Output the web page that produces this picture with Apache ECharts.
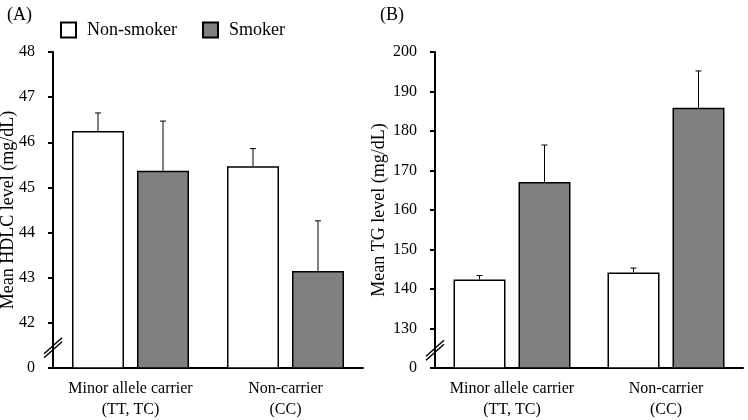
<!DOCTYPE html>
<html>
<head>
<meta charset="utf-8">
<script src="https://cdn.jsdelivr.net/npm/echarts@6/dist/echarts.min.js"></script>
<style>
  html, body { margin: 0; padding: 0; background: #fff; }
  #chart { width: 748px; height: 420px; }
</style>
</head>
<body>
<div id="chart"></div>
<script>
const categories = ["Minor allele carrier\n(TT, TC)", "Non-carrier\n(CC)"];
const seriesNames = ["Non-smoker", "Smoker"];

// panel A: HDLC (mg/dL), mean and standard error
const hdlcNonSmoker = [46.25, 45.47];
const hdlcNonSmokerErr = [0.40, 0.39];
const hdlcSmoker = [45.37, 43.15];
const hdlcSmokerErr = [1.10, 1.11];

// panel B: TG (mg/dL)
const tgNonSmoker = [142.4, 144.2];
const tgNonSmokerErr = [1.0, 1.1];
const tgSmoker = [167.1, 185.9];
const tgSmokerErr = [9.35, 9.3];

// axes: lowest value is drawn as "0" below the break
const hdlcAxis = { min: 41, max: 48, interval: 1 };
const tgAxis = { min: 120, max: 200, interval: 10 };

const FONT = "Liberation Serif";
const gridA = { left: 53, right: 385, top: 52, bottom: 52, containLabel: false, outerBoundsMode: "none" };
const gridB = { left: 435, right: 5, top: 52, bottom: 52, containLabel: false, outerBoundsMode: "none" };
const BAR_W = 52;
const OFFSET = 32.5;

const chart = echarts.init(document.getElementById("chart"));

const yAxisFor = (ax, name, nameGap, gridIndex) => ({
  type: "value",
  gridIndex,
  min: ax.min,
  max: ax.max,
  interval: ax.interval,
  name,
  nameLocation: "middle",
  nameGap,
  nameMoveOverlap: false,
  nameTextStyle: { fontFamily: FONT, fontSize: 18, color: "#000", verticalAlign: "middle" },
  axisLine: { show: true, lineStyle: { color: "#000", width: 2 } },
  axisTick: { show: true, length: 5, lineStyle: { color: "#000", width: 2 } },
  axisLabel: {
    margin: 18,
    fontFamily: FONT,
    fontSize: 16,
    color: "#000",
    formatter: (v) => (v === ax.min ? "0" : String(v)),
  },
  splitLine: { show: false },
});

const xAxisFor = (gridIndex) => ({
  type: "category",
  gridIndex,
  data: categories,
  axisLine: { lineStyle: { color: "#000", width: 2 } },
  axisTick: { show: false },
  axisLabel: {
    interval: 0,
    margin: 10,
    fontFamily: FONT,
    fontSize: 16,
    lineHeight: 21,
    color: "#000",
  },
});

const barSeries = (name, data, idx, color) => ({
  type: "bar",
  name,
  xAxisIndex: idx,
  yAxisIndex: idx,
  data,
  barWidth: BAR_W,
  barGap: "25%",
  itemStyle: { color, borderColor: "#000", borderWidth: 1.5 },
});

const errSeries = (means, errs, idx, offset) => ({
  type: "custom",
  xAxisIndex: idx,
  yAxisIndex: idx,
  data: means.map((m, i) => [i, m, errs[i]]),
  z: 5,
  renderItem: (params, api) => {
    const base = api.coord([api.value(0), api.value(1)]);
    const top = api.coord([api.value(0), api.value(1) + api.value(2)]);
    const x = base[0] + offset;
    const style = { stroke: "#000", lineWidth: 1 };
    return {
      type: "group",
      children: [
        { type: "line", shape: { x1: x, y1: base[1], x2: x, y2: top[1] }, style },
        { type: "line", shape: { x1: x - 3, y1: top[1], x2: x + 3, y2: top[1] }, style },
      ],
    };
  },
});

chart.setOption({
  animation: false,
  title: [
    { text: "(A)", left: 2, top: 1, textStyle: { fontFamily: FONT, fontSize: 18, fontWeight: "normal", color: "#000" } },
    { text: "(B)", left: 375, top: 1, textStyle: { fontFamily: FONT, fontSize: 18, fontWeight: "normal", color: "#000" } },
  ],
  legend: {
    data: seriesNames,
    left: 60,
    top: 21,
    padding: 0,
    icon: "rect",
    itemWidth: 15,
    itemHeight: 15,
    itemGap: 25,
    textStyle: { fontFamily: FONT, fontSize: 18, color: "#000", padding: [0, 0, 0, 6] },
  },
  grid: [gridA, gridB],
  xAxis: [xAxisFor(0), xAxisFor(1)],
  yAxis: [
    yAxisFor(hdlcAxis, "Mean HDLC level (mg/dL)", 45, 0),
    yAxisFor(tgAxis, "Mean TG level (mg/dL)", 56, 1),
  ],
  series: [
    barSeries("Non-smoker", hdlcNonSmoker, 0, "#ffffff"),
    barSeries("Smoker", hdlcSmoker, 0, "#808080"),
    barSeries("Non-smoker", tgNonSmoker, 1, "#ffffff"),
    barSeries("Smoker", tgSmoker, 1, "#808080"),
    errSeries(hdlcNonSmoker, hdlcNonSmokerErr, 0, -OFFSET),
    errSeries(hdlcSmoker, hdlcSmokerErr, 0, OFFSET),
    errSeries(tgNonSmoker, tgNonSmokerErr, 1, -OFFSET),
    errSeries(tgSmoker, tgSmokerErr, 1, OFFSET),
  ],
});

// axis break marks (double slash) between "0" and the first real tick
const breakMark = (x, yVal, axisIndex) => {
  const y = chart.convertToPixel({ yAxisIndex: axisIndex }, yVal);
  const style = { stroke: "#000", lineWidth: 1.5 };
  return [-2, 2].map((d) => ({
    type: "line",
    z: 100,
    shape: { x1: x - 9, y1: y + 8 + d, x2: x + 9, y2: y - 8 + d },
    style,
  }));
};

chart.setOption({
  graphic: [
    ...breakMark(gridA.left, 41.45, 0),
    ...breakMark(gridB.left, 124.5, 1),
  ],
});
</script>
</body>
</html>
